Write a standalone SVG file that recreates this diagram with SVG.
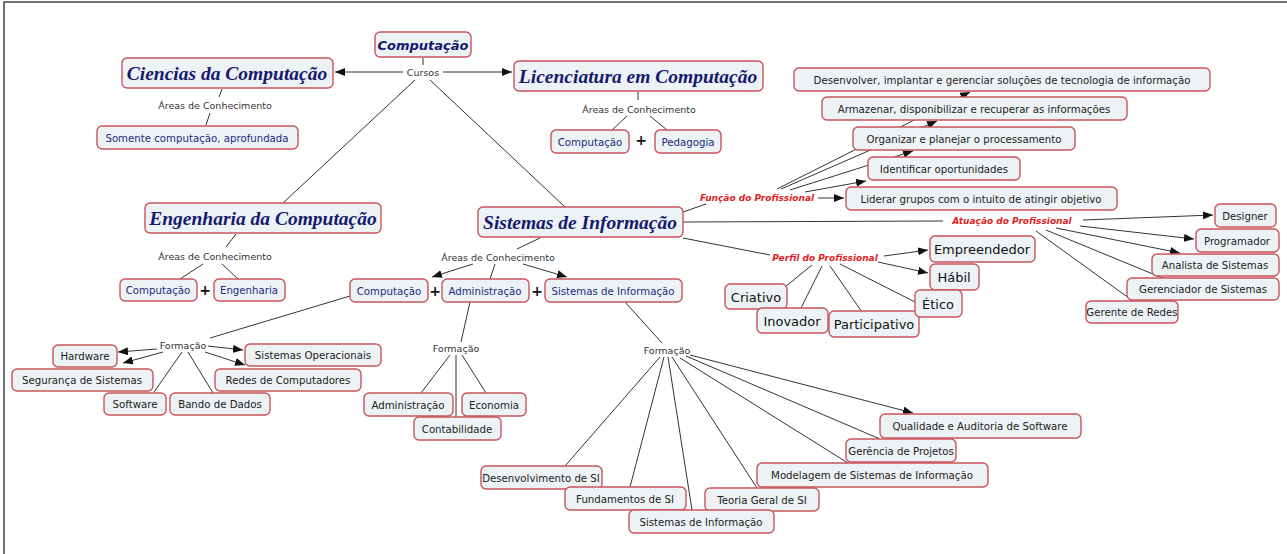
<svg xmlns="http://www.w3.org/2000/svg" width="1287" height="554" viewBox="0 0 1287 554">
<style>
.bx{fill:#edf2f5;stroke:#c9545c;stroke-width:1.4}
.t{font-family:"DejaVu Sans",Verdana,sans-serif;font-size:10.2px;fill:#222;text-anchor:middle;dominant-baseline:central}
.n{fill:#1c2a80}
.big{font-family:"Liberation Serif","Times New Roman",serif;font-size:19.5px;font-weight:bold;font-style:italic;fill:#16196e;text-anchor:middle;dominant-baseline:central}
.top{font-family:"DejaVu Sans",Verdana,sans-serif;font-size:13px;font-weight:bold;font-style:italic;fill:#16196e;text-anchor:middle;dominant-baseline:central}
.lb{font-family:"DejaVu Sans",Verdana,sans-serif;font-size:9.5px;fill:#333;text-anchor:middle;dominant-baseline:central}
.red{font-family:"DejaVu Sans",Verdana,sans-serif;font-size:9px;font-weight:bold;font-style:italic;fill:#e01e25;text-anchor:middle;dominant-baseline:central}
.pf{font-family:"DejaVu Sans",Verdana,sans-serif;font-size:13px;fill:#111;text-anchor:middle;dominant-baseline:central}
.pl{font-family:"DejaVu Sans",Verdana,sans-serif;font-size:14px;font-weight:bold;fill:#111;text-anchor:middle;dominant-baseline:central}
.c line{stroke:#333;stroke-width:1}
.c .a{marker-end:url(#ah)}
</style>
<defs>
<marker id="ah" markerUnits="userSpaceOnUse" markerWidth="10" markerHeight="8" refX="10" refY="4" orient="auto"><path d="M0,0 L10,4 L0,8 z" fill="#111"/></marker>
</defs>
<rect width="1287" height="554" fill="#fff"/>
<path d="M4,554 V2 H1287" fill="none" stroke="#444" stroke-width="1.5"/>
<g class="c" id="connectors">
<line x1="423" y1="58" x2="423" y2="65"/>
<line class="a" x1="403" y1="72" x2="335" y2="72"/>
<line class="a" x1="443" y1="72" x2="512" y2="72"/>
<line x1="415" y1="80" x2="283" y2="203"/>
<line x1="430" y1="80" x2="565" y2="207"/>
<line x1="222" y1="89" x2="219" y2="97"/>
<line x1="210" y1="113" x2="206" y2="125"/>
<line x1="638" y1="92" x2="638" y2="100"/>
<line x1="627" y1="116" x2="612" y2="130"/>
<line x1="650" y1="116" x2="667" y2="130"/>
<line class="a" x1="777" y1="189" x2="970" y2="92"/>
<line class="a" x1="781" y1="189" x2="937" y2="121"/>
<line class="a" x1="790" y1="190" x2="913" y2="151"/>
<line class="a" x1="805" y1="192" x2="866" y2="181"/>
<line class="a" x1="818" y1="198" x2="844" y2="198"/>
<line x1="683" y1="212" x2="706" y2="204"/>
<line x1="236" y1="234" x2="226" y2="247"/>
<line x1="203" y1="264" x2="180" y2="279"/>
<line x1="222" y1="264" x2="238" y2="279"/>
<line x1="540" y1="238" x2="517" y2="249"/>
<line class="a" x1="473" y1="264" x2="432" y2="277"/>
<line x1="495" y1="264" x2="490" y2="279"/>
<line class="a" x1="523" y1="264" x2="567" y2="277"/>
<line x1="683" y1="222" x2="943" y2="221"/>
<line class="a" x1="1083" y1="220" x2="1213" y2="215"/>
<line class="a" x1="1080" y1="226" x2="1194" y2="239"/>
<line class="a" x1="1056" y1="228" x2="1180" y2="253"/>
<line x1="1046" y1="230" x2="1165" y2="279"/>
<line x1="1036" y1="231" x2="1133" y2="301"/>
<line x1="683" y1="238" x2="770" y2="255"/>
<line class="a" x1="884" y1="256" x2="928" y2="250"/>
<line class="a" x1="878" y1="262" x2="928" y2="273"/>
<line x1="812" y1="265" x2="785" y2="287"/>
<line x1="822" y1="266" x2="800" y2="310"/>
<line x1="830" y1="266" x2="862" y2="312"/>
<line x1="840" y1="264" x2="915" y2="302"/>
<line x1="350" y1="296" x2="210" y2="338"/>
<line class="a" x1="157" y1="349" x2="118" y2="352"/>
<line class="a" x1="163" y1="352" x2="123" y2="363"/>
<line x1="182" y1="352" x2="154" y2="392"/>
<line x1="188" y1="352" x2="213" y2="393"/>
<line class="a" x1="208" y1="346" x2="243" y2="350"/>
<line class="a" x1="205" y1="352" x2="245" y2="365"/>
<line x1="470" y1="302" x2="461" y2="342"/>
<line x1="450" y1="355" x2="421" y2="393"/>
<line x1="456" y1="355" x2="456" y2="417"/>
<line x1="462" y1="355" x2="486" y2="393"/>
<line x1="625" y1="302" x2="662" y2="343"/>
<line x1="660" y1="357" x2="565" y2="466"/>
<line x1="664" y1="357" x2="630" y2="487"/>
<line x1="668" y1="357" x2="692" y2="510"/>
<line x1="672" y1="357" x2="757" y2="488"/>
<line x1="680" y1="358" x2="848" y2="463"/>
<line x1="686" y1="356" x2="880" y2="439"/>
<line class="a" x1="690" y1="355" x2="913" y2="413"/>
</g>
<g id="n-computacao"><rect class="bx" x="375" y="32" width="96" height="25" rx="5"/><text class="top" x="423" y="45">Computação</text></g>
<g id="l-cursos"><text class="lb" x="423" y="72">Cursos</text></g>
<g id="n-ciencias"><rect class="bx" x="122" y="58" width="211" height="30" rx="5"/><text class="big" x="227" y="73">Ciencias da Computação</text></g>
<g id="n-licenciatura"><rect class="bx" x="514" y="61" width="249" height="30" rx="5"/><text class="big" x="638" y="76">Licenciatura em Computação</text></g>
<g id="l-areas1"><text class="lb" x="215" y="105">Áreas de Conhecimento</text></g>
<g id="n-somente"><rect class="bx" x="97" y="126" width="201" height="23" rx="5"/><text class="t n" x="197" y="138">Somente computação, aprofundada</text></g>
<g id="l-areas2"><text class="lb" x="639" y="109">Áreas de Conhecimento</text></g>
<g id="n-lic-comp"><rect class="bx" x="551" y="130" width="78" height="23" rx="5"/><text class="t n" x="590" y="142">Computação</text></g>
<text class="pl" x="641" y="140">+</text>
<g id="n-pedagogia"><rect class="bx" x="655" y="130" width="66" height="23" rx="5"/><text class="t n" x="688" y="142">Pedagogia</text></g>
<g id="n-desenvolver"><rect class="bx" x="794" y="68" width="416" height="23" rx="5"/><text class="t" x="1002" y="80">Desenvolver, implantar e gerenciar soluções de tecnologia de informação</text></g>
<g id="n-armazenar"><rect class="bx" x="822" y="97" width="305" height="23" rx="5"/><text class="t" x="974" y="109">Armazenar, disponibilizar e recuperar as informações</text></g>
<g id="n-organizar"><rect class="bx" x="853" y="127" width="222" height="23" rx="5"/><text class="t" x="964" y="139">Organizar e planejar o processamento</text></g>
<g id="n-identificar"><rect class="bx" x="868" y="157" width="152" height="23" rx="5"/><text class="t" x="944" y="169">Identificar oportunidades</text></g>
<g id="n-liderar"><rect class="bx" x="846" y="187" width="271" height="23" rx="5"/><text class="t" x="981" y="199">Liderar grupos com o intuito de atingir objetivo</text></g>
<g id="l-funcao"><text class="red" x="757" y="198">Função do Profissional</text></g>
<g id="n-engenharia"><rect class="bx" x="145" y="203" width="236" height="30" rx="5"/><text class="big" x="263" y="218">Engenharia da Computação</text></g>
<g id="n-si"><rect class="bx" x="478" y="207" width="205" height="30" rx="5"/><text class="big" x="580" y="222">Sistemas de Informação</text></g>
<g id="l-areas3"><text class="lb" x="215" y="256">Áreas de Conhecimento</text></g>
<g id="n-eng-comp"><rect class="bx" x="120" y="279" width="77" height="22" rx="5"/><text class="t n" x="158" y="290">Computação</text></g>
<text class="pl" x="205" y="290">+</text>
<g id="n-eng-eng"><rect class="bx" x="214" y="279" width="71" height="22" rx="5"/><text class="t n" x="249" y="290">Engenharia</text></g>
<g id="l-areas4"><text class="lb" x="498" y="257">Áreas de Conhecimento</text></g>
<g id="n-si-comp"><rect class="bx" x="350" y="279" width="78" height="23" rx="5"/><text class="t n" x="389" y="291">Computação</text></g>
<text class="pl" x="435" y="291">+</text>
<g id="n-si-adm"><rect class="bx" x="442" y="279" width="87" height="23" rx="5"/><text class="t n" x="485" y="291">Administração</text></g>
<text class="pl" x="537" y="291">+</text>
<g id="n-si-si"><rect class="bx" x="545" y="279" width="137" height="23" rx="5"/><text class="t n" x="613" y="291">Sistemas de Informação</text></g>
<g id="l-atuacao"><text class="red" x="1012" y="221">Atuação do Profissional</text></g>
<g id="n-designer"><rect class="bx" x="1215" y="204" width="61" height="23" rx="5"/><text class="t" x="1245" y="216">Designer</text></g>
<g id="n-programador"><rect class="bx" x="1196" y="229" width="83" height="23" rx="5"/><text class="t" x="1237" y="241">Programador</text></g>
<g id="n-analista"><rect class="bx" x="1152" y="254" width="127" height="22" rx="5"/><text class="t" x="1215" y="265">Analista de Sistemas</text></g>
<g id="n-gerenciador"><rect class="bx" x="1127" y="278" width="152" height="22" rx="5"/><text class="t" x="1203" y="289">Gerenciador de Sistemas</text></g>
<g id="n-gerente"><rect class="bx" x="1086" y="301" width="92" height="22" rx="5"/><text class="t" x="1132" y="312">Gerente de Redes</text></g>
<g id="l-perfil"><text class="red" x="825" y="258">Perfil do Profissional</text></g>
<g id="n-empreendedor"><rect class="bx" x="930" y="236" width="105" height="26" rx="5"/><text class="pf" x="982" y="249">Empreendedor</text></g>
<g id="n-habil"><rect class="bx" x="930" y="264" width="49" height="26" rx="5"/><text class="pf" x="954" y="277">Hábil</text></g>
<g id="n-criativo"><rect class="bx" x="725" y="284" width="62" height="25" rx="5"/><text class="pf" x="756" y="297">Criativo</text></g>
<g id="n-inovador"><rect class="bx" x="757" y="308" width="71" height="25" rx="5"/><text class="pf" x="792" y="321">Inovador</text></g>
<g id="n-participativo"><rect class="bx" x="829" y="311" width="90" height="26" rx="5"/><text class="pf" x="874" y="324">Participativo</text></g>
<g id="n-etico"><rect class="bx" x="915" y="290" width="47" height="27" rx="5"/><text class="pf" x="938" y="304">Ético</text></g>
<g id="l-formacao1"><text class="lb" x="183" y="345">Formação</text></g>
<g id="n-hardware"><rect class="bx" x="53" y="345" width="64" height="22" rx="5"/><text class="t" x="85" y="356">Hardware</text></g>
<g id="n-so"><rect class="bx" x="245" y="344" width="136" height="22" rx="5"/><text class="t" x="313" y="355">Sistemas Operacionais</text></g>
<g id="n-seguranca"><rect class="bx" x="12" y="369" width="141" height="22" rx="5"/><text class="t" x="82" y="380">Segurança de Sistemas</text></g>
<g id="n-redes"><rect class="bx" x="215" y="369" width="146" height="22" rx="5"/><text class="t" x="288" y="380">Redes de Computadores</text></g>
<g id="n-software"><rect class="bx" x="104" y="393" width="62" height="22" rx="5"/><text class="t" x="135" y="404">Software</text></g>
<g id="n-bando"><rect class="bx" x="170" y="393" width="100" height="22" rx="5"/><text class="t" x="220" y="404">Bando de Dados</text></g>
<g id="l-formacao2"><text class="lb" x="456" y="348">Formação</text></g>
<g id="n-administracao"><rect class="bx" x="364" y="393" width="89" height="23" rx="5"/><text class="t" x="408" y="405">Administração</text></g>
<g id="n-economia"><rect class="bx" x="462" y="393" width="64" height="23" rx="5"/><text class="t" x="494" y="405">Economia</text></g>
<g id="n-contabilidade"><rect class="bx" x="414" y="417" width="87" height="23" rx="5"/><text class="t" x="457" y="429">Contabilidade</text></g>
<g id="l-formacao3"><text class="lb" x="667" y="350">Formação</text></g>
<g id="n-qualidade"><rect class="bx" x="880" y="414" width="201" height="24" rx="5"/><text class="t" x="980" y="426">Qualidade e Auditoria de Software</text></g>
<g id="n-gerencia"><rect class="bx" x="846" y="439" width="110" height="23" rx="5"/><text class="t" x="901" y="451">Gerência de Projetos</text></g>
<g id="n-modelagem"><rect class="bx" x="757" y="463" width="231" height="24" rx="5"/><text class="t" x="872" y="475">Modelagem de Sistemas de Informação</text></g>
<g id="n-desenvolvimento"><rect class="bx" x="481" y="466" width="121" height="23" rx="5"/><text class="t" x="541" y="478">Desenvolvimento de SI</text></g>
<g id="n-fundamentos"><rect class="bx" x="565" y="487" width="121" height="23" rx="5"/><text class="t" x="625" y="499">Fundamentos de SI</text></g>
<g id="n-teoria"><rect class="bx" x="705" y="488" width="114" height="23" rx="5"/><text class="t" x="762" y="500">Teoria Geral de SI</text></g>
<g id="n-si-bottom"><rect class="bx" x="629" y="510" width="145" height="23" rx="5"/><text class="t" x="701" y="522">Sistemas de Informação</text></g>
</svg>
